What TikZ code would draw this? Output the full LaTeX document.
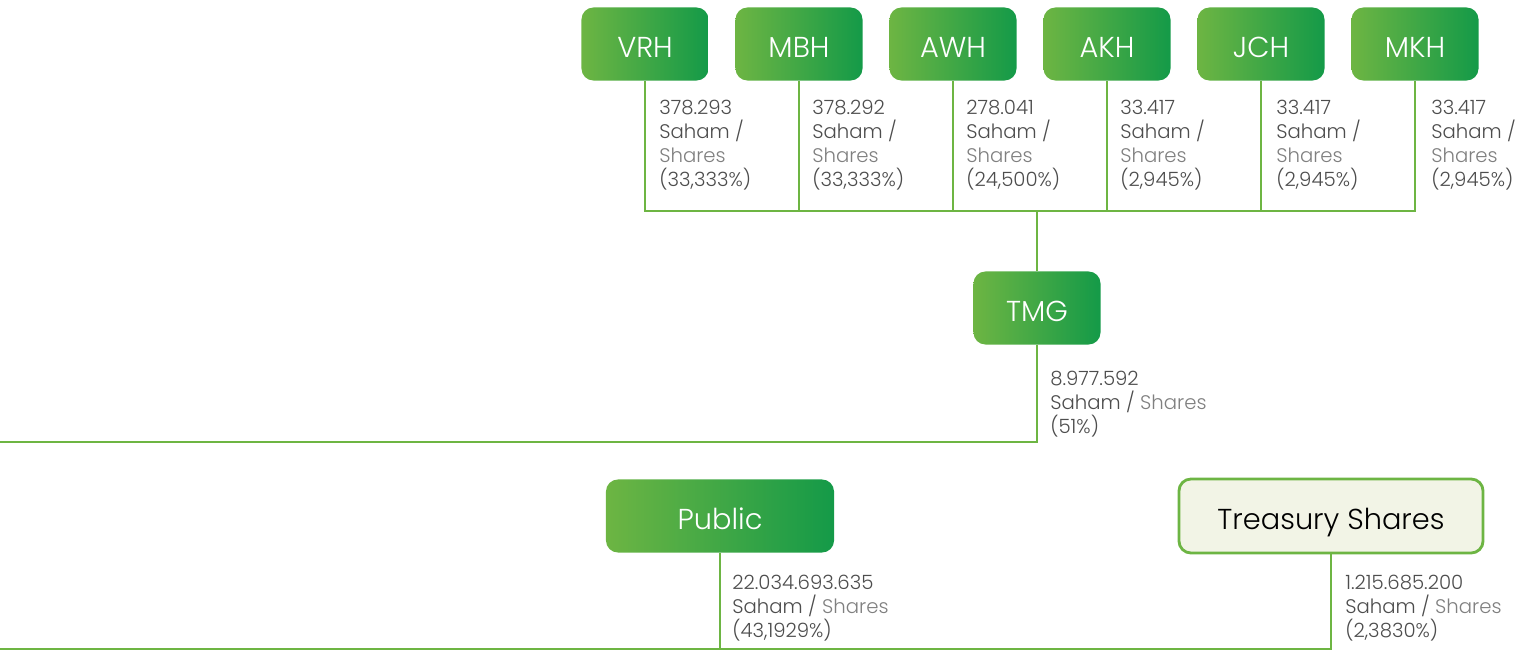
\documentclass[tikz,border=0pt]{standalone}
\usepackage{fontspec}
\setmainfont{Poppins}[UprightFont={* Light}, BoldFont={*}]
\usetikzlibrary{positioning}
\definecolor{gleft}{HTML}{6DB543}
\definecolor{gright}{HTML}{149A48}
\definecolor{lineg}{HTML}{6DB543}
\definecolor{tsfill}{HTML}{F2F4E6}
\definecolor{txtdark}{HTML}{4D4D4D}
\definecolor{txtlight}{HTML}{808080}

\begin{document}
\begin{tikzpicture}[x=0.025cm, y=-0.025cm,
    holder/.style={rounded corners=8.5pt, left color=gleft, right color=gright, text=white,
        minimum width=3.175cm, minimum height=1.825cm, text height=20pt, text depth=1pt,
        font=\fontsize{20.5}{24}\selectfont},
    treasury/.style={draw=lineg, line width=2pt, rounded corners=8.5pt, fill=tsfill, text=black,
        minimum width=7.6cm, minimum height=1.85cm, text height=20pt, text depth=1pt,
        font=\fontsize{20.5}{24}\selectfont},
    stake/.style={anchor=north west, align=left, inner sep=0pt, text=txtdark,
        font=\fontsize{14}{17}\selectfont},
    link/.style={draw=lineg, line width=2.1pt}]
    \useasboundingbox (0,0) rectangle (1536,651);

    % Shareholders of TMG
    \node[holder] (vrh) at (645,44) {VRH};
    \node[holder] (mbh) at (799,44) {MBH};
    \node[holder] (awh) at (953,44) {AWH};
    \node[holder] (akh) at (1107,44) {AKH};
    \node[holder] (jch) at (1261,44) {JCH};
    \node[holder] (mkh) at (1415,44) {MKH};

    % Their stakes
    \node[stake] (vrhv) at (659,100) {378.293\\Saham /\\\textcolor{txtlight}{Shares}\\(33,333\%)};
    \node[stake] (mbhv) at (812,100) {378.292\\Saham /\\\textcolor{txtlight}{Shares}\\(33,333\%)};
    \node[stake] (awhv) at (966,100) {278.041\\Saham /\\\textcolor{txtlight}{Shares}\\(24,500\%)};
    \node[stake] (akhv) at (1120,100) {33.417\\Saham /\\\textcolor{txtlight}{Shares}\\(2,945\%)};
    \node[stake] (jchv) at (1276,100) {33.417\\Saham /\\\textcolor{txtlight}{Shares}\\(2,945\%)};
    \node[stake] (mkhv) at (1431,100) {33.417\\Saham /\\\textcolor{txtlight}{Shares}\\(2,945\%)};

    % TMG
    \node[holder] (tmg) at (1037,308) {TMG};
    \node[stake] (tmgv) at (1050,371) {8.977.592\\Saham / \textcolor{txtlight}{Shares}\\(51\%)};

    % Public and treasury
    \node[holder, minimum width=5.7cm] (public) at (720,516) {Public};
    \node[stake] (publicv) at (732,575) {22.034.693.635\\Saham / \textcolor{txtlight}{Shares}\\(43,1929\%)};
    \node[treasury] (ts) at (1331,516) {Treasury Shares};
    \node[stake] (tsv) at (1345,575) {1.215.685.200\\Saham / \textcolor{txtlight}{Shares}\\(2,3830\%)};

    % Bars
    \coordinate (topbar) at (0,211);
    \coordinate (midbar) at (0,442);
    \coordinate (lowbar) at (0,649);

    \path[link] (vrh.south) -- (vrh.south |- topbar) -- (mkh.south |- topbar) -- (mkh.south);
    \foreach \n in {mbh,awh,akh,jch}
        \path[link] (\n.south) -- (\n.south |- topbar);
    \path[link] (tmg.north) -- (tmg.north |- topbar);

    \path[link] (tmg.south) |- (midbar);

    \path[link] (ts.south) |- (lowbar);
    \path[link] (public.south) -- (public.south |- lowbar);
\end{tikzpicture}
\end{document}
